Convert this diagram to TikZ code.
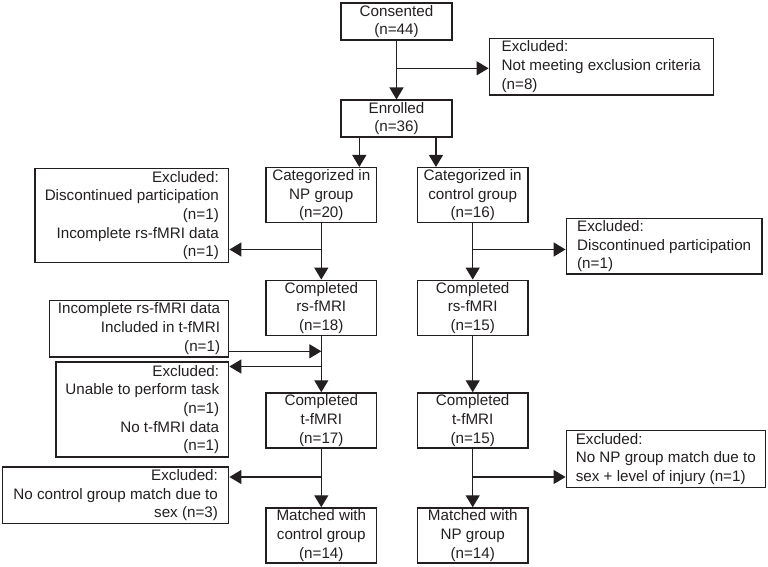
\documentclass[tikz,border=0pt]{standalone}
\usepackage{fontspec}
\setmainfont{Liberation Sans}
\usetikzlibrary{arrows.meta}
\definecolor{ink}{RGB}{35,31,32}

\begin{document}
\begin{tikzpicture}[x=0.75pt,y=0.75pt,yscale=-1,xscale=1,
  every node/.style={font=\fontsize{11.4}{14}\selectfont, text=ink, inner sep=0pt},
  stage/.style={draw=ink, line width=1.1pt, align=center, minimum width=83pt, minimum height=41.25pt},
  stagelow/.style={stage, minimum height=27.75pt},
  exleft/.style={draw=ink, line width=1.1pt, align=right},
  exright/.style={draw=ink, line width=1.1pt, align=left},
  flow/.style={draw=ink, line width=1pt, -{Triangle[length=9pt,width=10.5pt]}}]
%set diagram to 768 x 567
\path[use as bounding box] (0,0) rectangle (768,567);

% Main column
\node[stagelow] (consent) at (396.5,21.5) {Consented\\(n=44)};
\node[stagelow] (enrol) at (396.5,118.7) {Enrolled\\(n=36)};
\node[stage] (catNP) at (321.3,195.2) {Categorized in\\NP group\\(n=20)};
\node[stage] (catCtrl) at (472.7,195.2) {Categorized in\\control group\\(n=16)};
\node[stage] (rsNP) at (321.3,307.8) {Completed\\rs-fMRI\\(n=18)};
\node[stage] (rsCtrl) at (472.7,307.8) {Completed\\rs-fMRI\\(n=15)};
\node[stage] (tNP) at (321.3,420.5) {Completed\\t-fMRI\\(n=17)};
\node[stage] (tCtrl) at (472.7,420.5) {Completed\\t-fMRI\\(n=15)};
\node[stage] (matchNP) at (321.3,535.5) {Matched with\\control group\\(n=14)};
\node[stage] (matchCtrl) at (472.7,535.5) {Matched with\\NP group\\(n=14)};

% Side boxes
\node[exright, minimum width=168pt, minimum height=42.5pt] (exclA) at (601.3,66.7) {Excluded:\\Not meeting exclusion criteria\\(n=8)};
\node[exleft, minimum width=145.3pt, minimum height=70.8pt] (exclB) at (131.8,215.5) {Excluded:\\Discontinued participation\\(n=1)\\Incomplete rs-fMRI data\\(n=1)};
\node[exright, minimum width=146.8pt, minimum height=41.8pt] (exclC) at (664.2,246.2) {Excluded:\\Discontinued participation\\(n=1)};
\node[exleft, minimum width=134.5pt, minimum height=42.5pt] (inclD) at (139,328.7) {Incomplete rs-fMRI data\\Included in t-fMRI\\(n=1)};
\node[exleft, minimum width=129.5pt, minimum height=71.25pt] (exclE) at (142.3,409.5) {Excluded:\\Unable to perform task\\(n=1)\\No t-fMRI data\\(n=1)};
\node[exleft, minimum width=169.5pt, minimum height=42.5pt] (exclF) at (115.7,495.3) {Excluded:\\No control group match due to\\sex (n=3)};
\node[exright, minimum width=149.3pt, minimum height=42.5pt] (exclG) at (665.8,459) {Excluded:\\No NP group match due to\\sex + level of injury (n=1)};

% Branch points
\coordinate (jA) at (396.5,68.3);
\coordinate (jB) at (321.3,249.5);
\coordinate (jC) at (472.7,249.5);
\coordinate (jD) at (321.3,351.3);
\coordinate (jE) at (321.3,366.5);
\coordinate (jF) at (321.3,477);
\coordinate (jG) at (472.7,477);

% Arrows
\draw[flow] (consent) -- (enrol);
\draw[flow] (jA) -- (jA -| exclA.west);
\draw[flow] ([xshift=-27.9pt]enrol.south) -- ([xshift=-27.9pt]enrol.south |- catNP.north);
\draw[flow] ([xshift=29.6pt]enrol.south) -- ([xshift=29.6pt]enrol.south |- catCtrl.north);
\draw[flow] (catNP) -- (rsNP);
\draw[flow] (jB) -- (jB -| exclB.east);
\draw[flow] (catCtrl) -- (rsCtrl);
\draw[flow] (jC) -- (jC -| exclC.west);
\draw[flow] (rsNP) -- (tNP);
\draw[flow] (jD -| inclD.east) -- (jD);
\draw[flow] (jE) -- (jE -| exclE.east);
\draw[flow] (rsCtrl) -- (tCtrl);
\draw[flow] (tNP) -- (matchNP);
\draw[flow] (jF) -- (jF -| exclF.east);
\draw[flow] (tCtrl) -- (matchCtrl);
\draw[flow] (jG) -- (jG -| exclG.west);

\end{tikzpicture}
\end{document}
